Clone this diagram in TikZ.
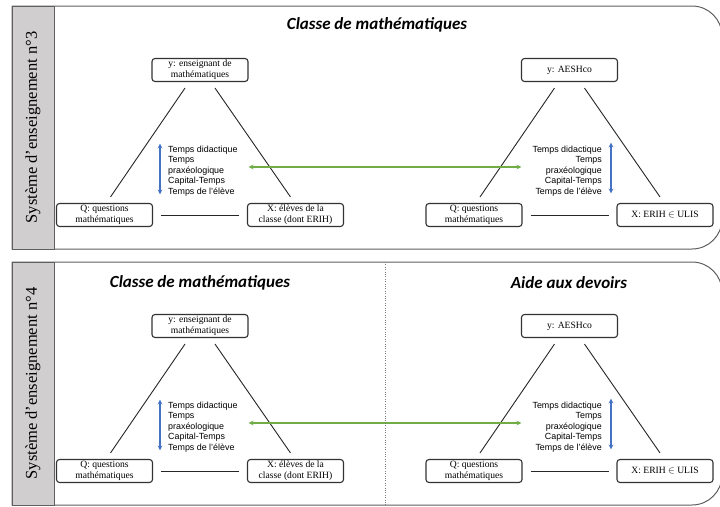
\documentclass[tikz,border=0pt]{standalone}
\usepackage{fontspec}
\setmainfont{Liberation Serif}
\newfontfamily\titlefont{Carlito}
\newfontfamily\listfont{Liberation Sans}
\definecolor{bandgray}{HTML}{D0CECE}
\definecolor{framegray}{HTML}{5F5F5F}
\definecolor{arrowblue}{HTML}{4472C4}
\definecolor{arrowgreen}{HTML}{70AD47}
\tikzset{
	role/.style={draw=black!80, line width=1.1pt, rounded corners=3pt, minimum width=96pt, minimum height=23pt, inner sep=1pt, align=center, font=\fontsize{9.6}{11.2}\selectfont},
	times/.style={inner sep=0pt, font=\listfont\fontsize{8.9}{10.5}\selectfont},
	edge/.style={line width=0.9pt, black!85},
	title/.style={font=\titlefont\bfseries\itshape\fontsize{17}{20}\selectfont},
	band/.style={font=\fontsize{16.5}{18}\selectfont, rotate=90},
}
\begin{document}
\begin{tikzpicture}[x=1pt, y=-1pt, >=stealth]
	\useasboundingbox (0,0) rectangle (720,506);
	
	\foreach \dy/\p/\sys in {0/a/3, 256/b/4} {
		\begin{scope}[shift={(0,\dy)}]
			% Frame
			\draw[framegray, line width=1pt, fill=white] (12,6) -- (692,6) .. controls (708.6,6) and (722,19.4) .. (722,36) -- (722,219) .. controls (722,235.6) and (708.6,249) .. (692,249) -- (12,249) -- cycle;
			\draw[framegray, line width=1pt, fill=bandgray] (12,6) rectangle (54,249);
			\node[band] (sys-\p) at (33,127.5) {Système d’enseignement n°\sys};
			
			% Left triangle
			\node[role] (ens-\p) at (200,70) {y: enseignant de\\mathématiques};
			\node[role] (ques-\p) at (104.5,215) {Q: questions\\mathématiques};
			\node[role] (elev-\p) at (295.5,215) {X: élèves de la\\classe (dont ERIH)};
			\node[times, anchor=west, align=left] (temps-\p) at (168,171) {Temps didactique\\Temps\\praxéologique\\Capital-Temps\\Temps de l’élève};
			\draw[edge] ([xshift=-15pt,yshift=-6pt]ens-\p.south) -- ([xshift=6pt,yshift=6pt]ques-\p.north);
			\draw[edge] ([xshift=15pt,yshift=-6pt]ens-\p.south) -- ([xshift=-5pt,yshift=6pt]elev-\p.north);
			\draw[edge, shorten <=8pt, shorten >=8pt] (ques-\p.east) -- (elev-\p.west);
			\draw[<->, arrowblue, line width=1.1pt] ([xshift=-8pt,yshift=2pt]temps-\p.north west) -- ([xshift=-8pt,yshift=2pt]temps-\p.south west);
			
			% Right triangle
			\node[role] (aesh-\p) at (569.5,70) {y: AESHco};
			\node[role] (quesr-\p) at (474,215) {Q: questions\\mathématiques};
			\node[role] (ulis-\p) at (665,215) {X: ERIH $\in$ ULIS};
			\node[times, anchor=east, align=right] (tempsr-\p) at (602,171) {Temps didactique\\Temps\\praxéologique\\Capital-Temps\\Temps de l’élève};
			\draw[edge] ([xshift=-15pt,yshift=-6pt]aesh-\p.south) -- ([xshift=6pt,yshift=6pt]quesr-\p.north);
			\draw[edge] ([xshift=15pt,yshift=-6pt]aesh-\p.south) -- ([xshift=-5pt,yshift=6pt]ulis-\p.north);
			\draw[edge, shorten <=8pt, shorten >=7pt] (quesr-\p.east) -- (ulis-\p.west);
			\draw[<->, arrowblue, line width=1.1pt] ([xshift=9pt,yshift=3pt]tempsr-\p.north east) -- ([xshift=9pt,yshift=3pt]tempsr-\p.south east);
			
			% Link between the two systems
			\draw[<->, arrowgreen, line width=1.1pt, shorten <=11pt, shorten >=11pt] ([yshift=4pt]temps-\p.east) -- ([yshift=4pt]tempsr-\p.west);
		\end{scope}
	}
	
	% Titles
	\node[title] (titre-a) at (377,25) {Classe de mathématiques};
	\node[title] (titre-b) at (200,283) {Classe de mathématiques};
	\node[title] (aide-b) at (569,283) {Aide aux devoirs};
	\draw[dotted, gray] (385,262) -- (385,505);
\end{tikzpicture}
\end{document}
